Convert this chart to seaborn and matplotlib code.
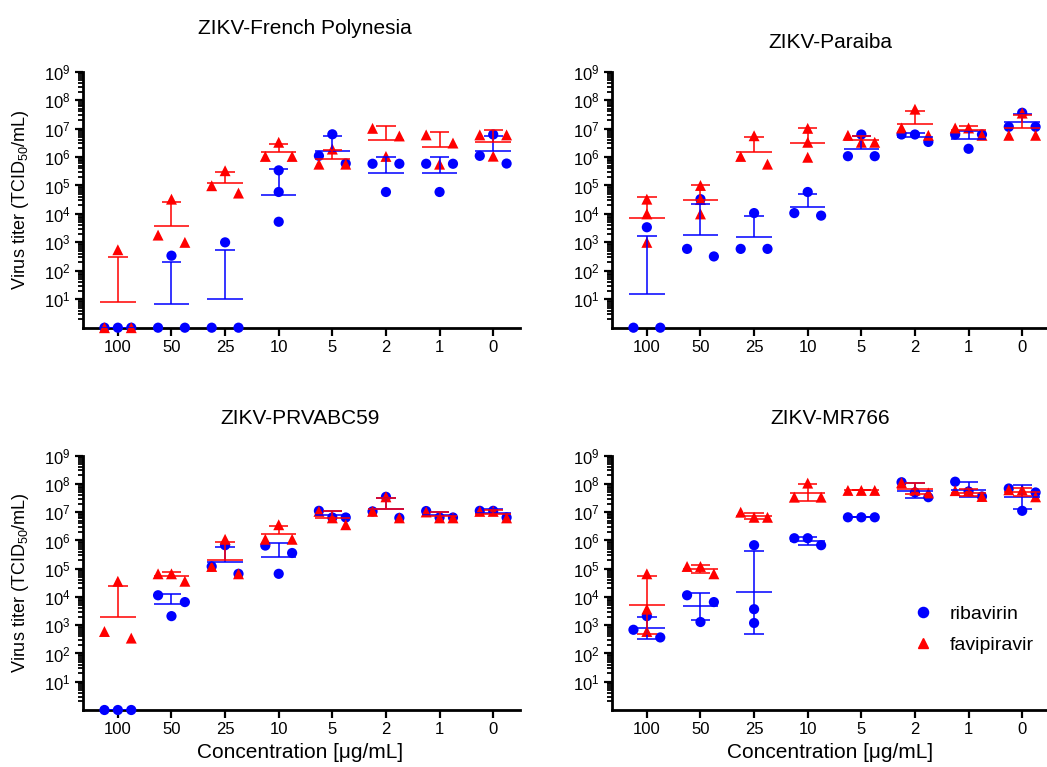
import numpy as np
import pandas as pd
import matplotlib
matplotlib.use("Agg")
import matplotlib.pyplot as plt
import seaborn as sns
from matplotlib.lines import Line2D
from matplotlib.ticker import LogLocator, NullFormatter

# concentrations (ug/mL), shown as categories
conc = ["100", "50", "25", "10", "5", "2", "1", "0"]

# virus titers (TCID50/mL), 3 replicates per concentration
fp_rib = [[1, 1, 1], [1, 1, 3.4e2], [1, 1, 1.0e3], [3.4e5, 5.9e4, 5.3e3],
          [6.3e6, 1.1e6, 5.9e5], [5.8e5, 5.8e5, 5.9e4], [5.8e5, 5.8e5, 5.9e4], [6.2e6, 1.1e6, 5.9e5]]
fp_fav = [[1, 1, 5.5e2], [3.3e4, 1.8e3, 1.0e3], [3.3e5, 9.8e4, 5.4e4], [3.3e6, 1.05e6, 1.05e6],
          [1.9e6, 5.6e5, 5.6e5], [1.02e7, 5.5e6, 1.05e6], [6.0e6, 3.1e6, 5.6e5], [6.0e6, 6.0e6, 1.07e6]]

pa_rib = [[1, 1, 3.4e3], [3.3e4, 3.2e2, 5.9e2], [1.07e4, 5.9e2, 5.9e2], [5.9e4, 8.7e3, 1.07e4],
          [6.2e6, 1.07e6, 1.07e6], [6.2e6, 6.2e6, 3.4e6], [6.2e6, 6.2e6, 1.95e6], [3.6e7, 1.15e7, 1.15e7]]
pa_fav = [[3.3e4, 1.0e4, 1.0e3], [1.0e5, 3.2e4, 1.0e4], [5.6e6, 1.05e6, 5.6e5], [1.02e7, 3.3e6, 9.8e5],
          [5.8e6, 3.3e6, 3.3e6], [4.8e7, 1.05e7, 5.8e6], [1.05e7, 1.05e7, 5.8e6], [3.5e7, 5.8e6, 5.8e6]]

pr_rib = [[1, 1, 1], [6.6e3, 1.15e4, 2.1e3], [6.8e5, 1.2e5, 6.6e4], [6.6e5, 3.6e5, 6.6e4],
          [1.12e7, 6.5e6, 6.5e6], [3.5e7, 1.07e7, 6.3e6], [1.1e7, 6.5e6, 6.5e6], [1.12e7, 1.12e7, 6.5e6]]
pr_fav = [[3.6e4, 6.0e2, 3.5e2], [6.6e4, 6.6e4, 3.6e4], [1.1e6, 6.6e4, 1.2e5], [3.6e6, 1.1e6, 1.1e6],
          [1.07e7, 6.3e6, 3.6e6], [3.5e7, 1.07e7, 6.3e6], [1.02e7, 6.3e6, 6.3e6], [1.07e7, 1.07e7, 6.3e6]]

mr_rib = [[3.7e2, 2.1e3, 6.9e2], [1.3e3, 6.6e3, 1.15e4], [6.8e5, 3.7e3, 1.2e3], [6.8e5, 1.2e6, 1.2e6],
          [6.6e6, 6.6e6, 6.6e6], [1.15e8, 5.0e7, 3.4e7], [1.2e8, 5.4e7, 3.6e7], [6.9e7, 5.0e7, 1.12e7]]
mr_fav = [[6.6e4, 3.7e3, 6.0e2], [1.2e5, 1.2e5, 6.6e4], [1.0e7, 6.6e6, 6.6e6], [1.07e8, 3.4e7, 3.4e7],
          [5.9e7, 5.9e7, 5.9e7], [1.1e8, 6.0e7, 4.8e7], [5.8e7, 5.8e7, 3.6e7], [6.2e7, 6.2e7, 3.5e7]]

sns.set_style("ticks")
plt.rcParams['font.family'] = ['Liberation Sans', 'DejaVu Sans']
plt.rcParams['mathtext.fontset'] = 'custom'
plt.rcParams['mathtext.rm'] = 'Liberation Sans'
plt.rcParams['mathtext.it'] = 'Liberation Sans:italic'
plt.rcParams['mathtext.bf'] = 'Liberation Sans:bold'
plt.rcParams['mathtext.default'] = 'regular'
for k in ['text.color', 'axes.labelcolor', 'xtick.color', 'ytick.color', 'axes.edgecolor']:
    plt.rcParams[k] = 'black'

fig = plt.figure(figsize=(10.47, 7.67), dpi=100)

W, H = 1047, 767
def rect(left, top, right, bottom):
    return [left / W, 1 - bottom / H, (right - left) / W, (bottom - top) / H]


def spread(vals, thr=0.42, step=0.25):
    # prism-like scatter: points with close values are put side by side
    lg = np.log10(vals)
    clusters = []
    for idx in np.argsort(-lg, kind='stable'):
        if clusters and lg[clusters[-1][-1]] - lg[idx] < thr:
            clusters[-1].append(idx)
        else:
            clusters.append([idx])
    offs = np.zeros(len(vals))
    for c in clusters:
        n = len(c)
        pos = [-step, step] if n == 2 else (np.arange(n) - (n - 1) / 2) * step
        for j, idx in enumerate(c):
            offs[idx] = pos[j]
    return offs


def draw_panel(ax, rib, fav, both_sides):
    ax.set_yscale('log')
    for vals, color, marker, s in [(rib, 'blue', 'o', 54), (fav, 'red', '^', 62)]:
        xs, ys = [], []
        for i, v in enumerate(vals):
            xs.extend(i + spread(np.array(v, dtype=float)))
            ys.extend(v)
        df = pd.DataFrame({'pos': xs, 'titer': ys})
        sns.scatterplot(data=df, x='pos', y='titer', color=color, marker=marker, s=s,
                        edgecolor='none', ax=ax, clip_on=False, zorder=3)
    # geometric mean with geometric SD
    for vals, color in [(rib, 'blue'), (fav, 'red')]:
        for i, v in enumerate(vals):
            lg = np.log10(v)
            m, sd = lg.mean(), lg.std(ddof=1)
            gm, hi, lo = 10 ** m, 10 ** (m + sd), 10 ** (m - sd)
            kw = dict(color=color, lw=1.3, zorder=4, alpha=0.85)
            ax.hlines(gm, i - 0.33, i + 0.33, **kw)
            ax.vlines(i, gm, hi, **kw)
            ax.hlines(hi, i - 0.18, i + 0.18, **kw)
            if both_sides:
                ax.vlines(i, lo, gm, **kw)
                ax.hlines(lo, i - 0.18, i + 0.18, **kw)

    ax.set_xlim(-0.65, 7.5)
    ax.set_ylim(1, 1e9)
    ax.set_xticks(range(len(conc)), conc)
    ax.set_yticks([10.0 ** k for k in range(1, 10)])
    ax.yaxis.set_minor_locator(LogLocator(base=10, subs=np.arange(2, 10), numticks=20))
    ax.yaxis.set_minor_formatter(NullFormatter())
    ax.set_xlabel('')
    ax.set_ylabel('')
    sns.despine(ax=ax)
    for s in ['left', 'bottom']:
        ax.spines[s].set_linewidth(2)
    ax.tick_params(axis='both', which='major', width=1.6, length=6, labelsize=12, pad=3)
    ax.tick_params(axis='y', which='minor', width=1.3, length=3.5)
    ax.tick_params(axis='x', which='minor', length=0)


ax_a = fig.add_axes(rect(83, 71.7, 520, 327.7))
ax_b = fig.add_axes(rect(612, 71.7, 1049, 327.7))
ax_c = fig.add_axes(rect(83, 455.7, 520, 710))
ax_d = fig.add_axes(rect(612, 455.7, 1049, 710))

draw_panel(ax_a, fp_rib, fp_fav, False)
draw_panel(ax_b, pa_rib, pa_fav, False)
draw_panel(ax_c, pr_rib, pr_fav, False)
draw_panel(ax_d, mr_rib, mr_fav, True)

title_kw = dict(ha='center', va='center', fontsize=15)
fig.text(305 / W, 1 - 28 / H, 'ZIKV-French Polynesia', **title_kw)
fig.text(830 / W, 1 - 42 / H, 'ZIKV-Paraiba', **title_kw)
fig.text(300 / W, 1 - 418 / H, 'ZIKV-PRVABC59', **title_kw)
fig.text(830 / W, 1 - 418 / H, 'ZIKV-MR766', **title_kw)

ylab = 'Virus titer (TCID$_{50}$/mL)'
fig.text(21 / W, 1 - 200 / H, ylab, rotation=90, ha='center', va='center', fontsize=13)
fig.text(21 / W, 1 - 583 / H, ylab, rotation=90, ha='center', va='center', fontsize=13)
fig.text(300 / W, 1 - 752 / H, 'Concentration [μg/mL]', ha='center', va='center', fontsize=15)
fig.text(830 / W, 1 - 752 / H, 'Concentration [μg/mL]', ha='center', va='center', fontsize=15)

handles = [Line2D([], [], marker='o', ls='none', color='blue', markersize=7.3),
           Line2D([], [], marker='^', ls='none', color='red', markersize=7.8)]
ax_d.legend(handles, ['ribavirin', 'favipiravir'], loc='center left', bbox_to_anchor=(0.6927, 0.3166),
            frameon=False, fontsize=14, handlelength=0.9, handletextpad=0.9, labelspacing=0.7,
            borderpad=0, borderaxespad=0)

fig.savefig('out.png', dpi=100)
